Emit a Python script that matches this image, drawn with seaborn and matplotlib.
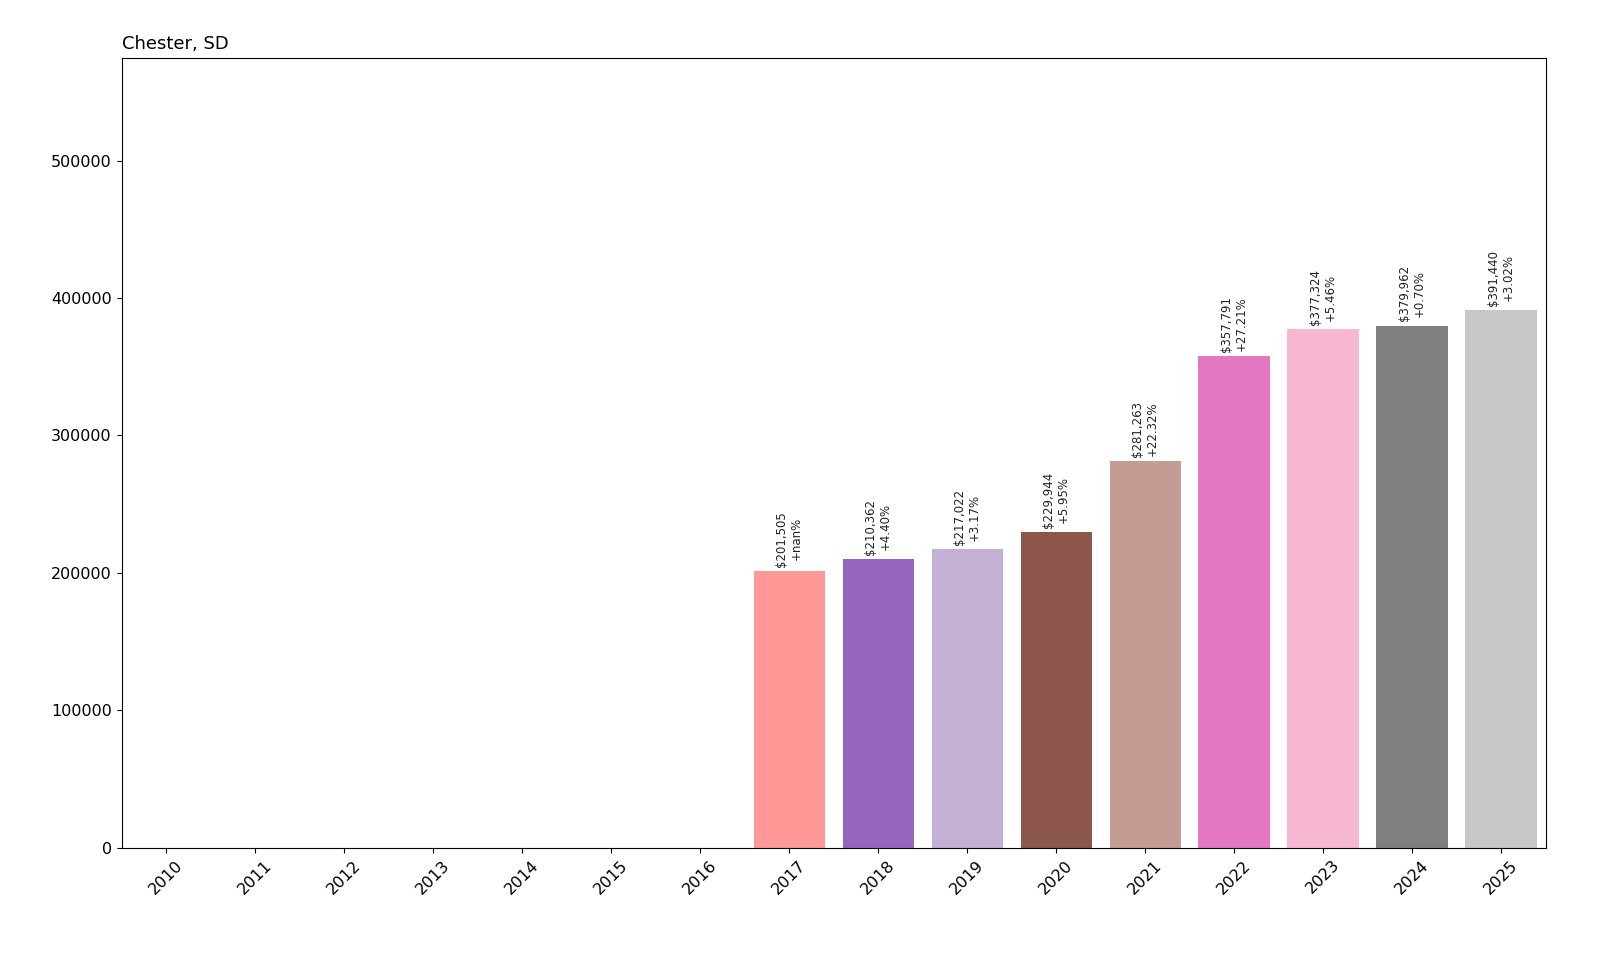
import matplotlib
matplotlib.use("Agg")
import matplotlib.pyplot as plt
import seaborn as sns
import pandas as pd
import numpy as np

years = [str(y) for y in range(2010, 2026)]
values = [0, 0, 0, 0, 0, 0, 0, 201505, 210362, 217022, 229944, 281263, 357791, 377324, 379962, 391440]
changes = [None]*7 + ["+nan%", "+4.40%", "+3.17%", "+5.95%", "+22.32%", "+27.21%", "+5.46%", "+0.70%", "+3.02%"]

df = pd.DataFrame({"year": years, "value": values})
fig = plt.figure(figsize=(16, 9.6), dpi=100)
ax = fig.add_axes([0.076, 0.117, 0.89, 0.823])
pal = sns.color_palette("tab20", 16)
sns.barplot(data=df, x="year", y="value", hue="year", palette=pal, legend=False, ax=ax, saturation=1)
for i, (v, c) in enumerate(zip(values, changes)):
    if c is None:
        continue
    ax.text(i, v + 3000, f"${v:,}\n{c}", rotation=90, ha="center", va="bottom", fontsize=8.5, color="#222222")
ax.set_ylim(0, 575000)
ax.set_xlabel("")
ax.set_ylabel("")
ax.set_title("Chester, SD", loc="left", fontsize=13)
ax.tick_params(axis="x", rotation=45, labelsize=11.5)
ax.tick_params(axis="y", labelsize=11.5)
fig.savefig("out.png", dpi=100)
